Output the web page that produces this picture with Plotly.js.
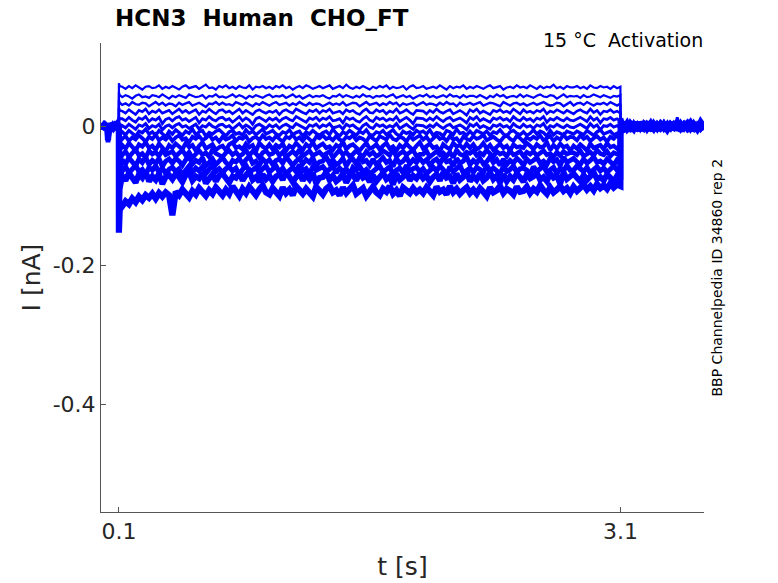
<!DOCTYPE html>
<html>
<head>
<meta charset="utf-8">
<script src="https://cdn.plot.ly/plotly-3.0.1.min.js"></script>
<style>html,body{margin:0;padding:0;background:#fff;}#plot{width:778px;height:583px;}</style>
</head>
<body>
<div id="plot"></div>
<script>
// ---- sample times (s) ----
const tPre = [0,0.01,0.02,0.03,0.035,0.04,0.05,0.06,0.07,0.08,0.09,0.0999];
const tStep = [0.1,0.105,
0.12,0.14,0.16,0.18,0.20,0.22,0.24,0.26,0.28,0.30,0.32,0.34,0.36,0.38,0.40,
0.42,0.44,0.46,0.48,0.50,0.52,0.54,0.56,0.58,0.60,0.62,0.64,0.66,0.68,0.70,
0.72,0.74,0.76,0.78,0.80,0.82,0.84,0.86,0.88,0.90,0.92,0.94,0.96,0.98,1.00,
1.02,1.04,1.06,1.08,1.10,1.12,1.14,1.16,1.18,1.20,1.22,1.24,1.26,1.28,1.30,
1.32,1.34,1.36,1.38,1.40,1.42,1.44,1.46,1.48,1.50,1.52,1.54,1.56,1.58,1.60,
1.62,1.64,1.66,1.68,1.70,1.72,1.74,1.76,1.78,1.80,1.82,1.84,1.86,1.88,1.90,
1.92,1.94,1.96,1.98,2.00,2.02,2.04,2.06,2.08,2.10,2.12,2.14,2.16,2.18,2.20,
2.22,2.24,2.26,2.28,2.30,2.32,2.34,2.36,2.38,2.40,2.42,2.44,2.46,2.48,2.50,
2.52,2.54,2.56,2.58,2.60,2.62,2.64,2.66,2.68,2.70,2.72,2.74,2.76,2.78,2.80,
2.82,2.84,2.86,2.88,2.90,2.92,2.94,2.96,2.98,3.00,3.02,3.04,3.06,3.08,3.10];
const tPost = [3.1001,3.12,3.14,3.16,3.18,3.20,3.22,3.24,3.26,3.28,3.30,3.32,3.34,
3.36,3.38,3.40,3.42,3.44,3.46,3.48,3.50,3.52,3.54,3.56,3.58,3.60];

// ---- sweep currents, read in pA: holding (pre), test step, tail (post) ----
const pre01_pA = [3,-2,4,-1,-12,2,-3,5,-1,2,-4,1];
const step01_pA = [62,58,
57,54,58,55,59,56,53,57,58,55,56,59,54,57,55,
58,56,53,57,59,55,56,58,54,57,60,55,56,53,58,
56,59,55,57,54,58,56,55,59,53,57,56,58,55,57,
54,58,56,59,55,57,53,56,58,55,59,57,54,56,58,
55,57,59,54,56,58,55,60,56,54,57,55,58,56,53,
57,55,58,56,59,54,57,55,56,58,53,57,59,55,56,
58,54,56,57,55,59,56,53,58,55,57,56,59,54,57,
55,58,56,54,57,59,55,56,58,53,56,57,55,59,56,
57,55,59,56,54,58,55,57,56,60,55,57,54,58,56,
56,58,55,57,54,59,56,55,58,56,57,54,58,55,57];
const post01_pA = [10,-6,5,-3,7,-5,2,-6,6,-2,4,-5,3,0,-4,5,-2,6,-3,1,-5,4,-1,3,-4,2];

const pre02_pA = [-4,3,-1,2,-20,-2,4,-3,1,-2,3,0];
const step02_pA = [49,45,
42,45,43,40,44,46,42,43,41,45,44,42,46,43,40,
44,42,45,43,41,46,44,42,43,45,40,44,43,46,42,
43,41,44,46,42,45,43,40,44,42,45,43,41,44,46,
42,44,43,45,41,43,46,42,44,40,43,45,42,44,43,
45,42,40,44,43,46,42,45,43,41,44,42,46,43,44,
41,44,43,45,42,44,46,41,43,45,42,44,40,43,45,
43,46,42,44,41,43,45,42,46,43,44,41,45,42,44,
44,42,45,43,40,44,42,46,43,45,41,43,44,42,46,
42,45,43,41,44,46,43,42,45,44,40,43,46,42,44,
43,44,41,45,42,43,46,44,42,45,43,41,44,43,45];
const post02_pA = [-12,7,-4,6,-2,5,-6,3,-3,6,-4,2,-5,4,1,-3,5,-6,2,-1,4,-3,6,-2,0,-4];

const pre03_pA = [2,-5,1,4,-8,-3,2,-1,5,-4,1,-2];
const step03_pA = [38,34,
31,33,30,35,32,31,34,33,29,32,35,31,34,30,33,
32,29,34,31,33,35,30,32,34,31,28,33,32,35,31,
34,31,32,30,35,33,31,34,32,29,33,31,35,32,30,
33,35,31,32,34,30,33,31,35,32,30,34,31,33,32,
29,32,34,31,33,31,35,30,32,34,33,29,32,35,31,
32,34,30,33,31,35,32,34,29,33,31,32,34,30,33,
35,31,33,32,30,34,31,35,32,33,29,34,31,32,34,
31,33,35,30,32,34,33,31,29,35,32,30,33,34,31,
33,30,32,34,31,33,35,32,30,31,34,33,29,32,35,
30,33,34,31,35,32,30,33,32,34,31,35,32,30,33];
const post03_pA = [6,-9,3,-5,6,-1,4,-4,5,-6,2,6,-3,-2,4,-5,1,3,-4,6,-2,-5,3,0,5,-3];

const pre04_pA = [-1,4,-3,0,-22,3,-4,2,-2,4,-1,2];
const step04_pA = [26,23,
22,19,24,20,17,23,21,25,18,22,20,24,19,21,23,
18,22,25,20,23,19,21,24,17,22,20,25,21,18,23,
24,20,22,18,21,25,19,23,20,17,22,24,21,19,22,
20,23,17,22,24,21,19,25,22,20,18,23,21,24,19,
23,21,25,19,20,22,18,24,21,23,19,17,22,25,20,
19,24,21,23,18,22,20,25,19,21,24,20,17,23,22,
22,18,23,20,25,21,19,22,24,18,21,23,20,16,24,
21,25,19,22,20,17,23,21,24,20,22,19,25,21,18,
24,20,22,19,23,21,25,18,22,20,24,21,19,23,20,
18,22,24,21,19,25,20,23,17,22,21,24,20,22,19];
const post04_pA = [-8,4,-7,2,-4,7,-3,5,-5,3,-6,4,1,5,-2,-4,6,-1,3,-5,2,-3,5,-6,1,4];

const pre05_pA = [5,-1,2,-4,-15,1,-2,4,-3,0,3,-1];
const step05_pA = [13,11,
11,8,13,9,6,12,10,14,7,11,9,13,4,10,12,
8,12,14,9,11,7,10,13,5,11,9,14,10,8,12,
13,9,11,6,10,14,8,12,9,3,11,13,10,7,12,
9,12,7,11,13,10,8,14,11,9,6,12,10,13,8,
12,10,14,8,9,11,5,13,10,12,8,6,11,14,9,
7,13,10,12,8,11,9,14,7,10,13,9,4,12,11,
11,8,12,9,14,10,7,11,13,8,10,12,9,5,13,
10,14,8,11,9,6,12,10,13,9,11,7,14,10,8,
13,9,11,7,12,10,14,6,11,9,13,10,8,12,9,
8,11,13,10,7,14,9,12,5,11,10,13,9,11,8];
const post05_pA = [12,-3,6,-6,3,-4,6,-2,4,-5,5,-3,6,-4,2,-1,-5,13,-3,5,0,3,-4,2,-6,1];

const pre06_pA = [-3,1,-4,3,-10,-1,3,-2,4,-3,0,1];
const step06_pA = [-4,-2,
1,-2,3,-1,-4,2,0,4,-3,1,-1,3,-5,0,2,
-2,2,4,-1,1,-3,0,3,-4,1,-1,4,0,-2,2,
3,-1,1,-4,0,4,-2,2,-1,-5,1,3,0,-3,2,
-1,2,-3,1,3,0,-2,4,1,-1,-4,2,0,3,-2,
2,0,4,-2,-1,1,-4,3,0,2,-2,-5,1,4,-1,
-3,3,0,2,-2,1,-1,4,-3,0,3,-1,-4,2,1,
1,-2,2,-1,4,0,-3,1,3,-2,0,2,-1,-5,3,
0,4,-2,1,-1,-4,2,0,3,-1,1,-3,4,0,-2,
3,-1,1,-3,2,0,4,-4,1,-1,3,0,-2,2,-1,
-2,1,3,0,-3,4,-1,2,-5,1,0,3,-1,1,-2];
const post06_pA = [-5,6,-2,4,-6,2,-4,6,-1,4,-3,5,-6,2,-4,3,-2,5,-5,1,6,-3,-1,4,-2,3];

const pre07_pA = [1,-3,5,-2,-21,4,-1,3,-4,1,-2,-2];
const step07_pA = [-20,-12,
-8,-12,-6,-10,-14,-7,-9,-4,-11,-8,-13,-6,-10,-15,-7,
-11,-5,-9,-13,-7,-10,-4,-12,-8,-6,-14,-9,-11,-7,-5,
-10,-14,-8,-6,-11,-9,-13,-5,-10,-7,-12,-8,-4,-11,-9,
-6,-11,-13,-8,-10,-5,-12,-9,-7,-14,-8,-11,-6,-10,-13,
-9,-7,-12,-4,-10,-14,-8,-11,-6,-9,-13,-7,-10,-5,-12,
-13,-8,-10,-6,-12,-9,-5,-11,-14,-7,-10,-8,-12,-6,-9,
-7,-11,-5,-13,-9,-10,-14,-6,-8,-12,-4,-10,-9,-13,-7,
-12,-6,-9,-11,-7,-13,-8,-10,-5,-11,-14,-8,-6,-10,-12,
-8,-13,-10,-5,-11,-7,-9,-14,-6,-12,-8,-10,-13,-7,-9,
-11,-7,-9,-12,-6,-10,-13,-8,-5,-11,-9,-7,-12,-10,-8];
const post07_pA = [8,-5,7,-2,5,-7,3,-3,7,-4,2,-5,4,-1,5,-3,2,-6,4,-2,3,-4,6,-3,1,-5];

const pre08_pA = [-2,2,-1,4,-6,-4,1,-3,2,5,-2,0];
const step08_pA = [-35,-22,
-18,-14,-21,-16,-19,-13,-17,-22,-15,-18,-12,-20,-16,-19,-14,
-21,-16,-13,-19,-17,-23,-15,-18,-14,-20,-17,-12,-19,-16,-22,
-15,-19,-17,-13,-21,-16,-18,-14,-22,-17,-15,-20,-13,-18,-16,
-20,-14,-18,-22,-15,-17,-12,-19,-16,-21,-14,-18,-23,-15,-17,
-13,-18,-16,-20,-14,-19,-21,-15,-17,-13,-20,-16,-18,-22,-14,
-17,-21,-14,-16,-19,-12,-18,-20,-15,-17,-22,-14,-19,-16,-13,
-19,-15,-22,-17,-13,-18,-16,-21,-14,-19,-17,-23,-15,-18,-20,
-14,-18,-16,-12,-20,-17,-15,-19,-22,-16,-13,-18,-21,-14,-17,
-22,-16,-19,-15,-18,-13,-20,-17,-14,-21,-16,-19,-12,-18,-15,
-16,-20,-13,-18,-15,-21,-17,-14,-19,-16,-22,-15,-18,-13,-17];
const post08_pA = [-10,3,-5,7,-3,4,-5,2,-6,5,-2,3,-4,6,-1,-5,3,2,-4,5,-3,1,-5,4,-2,6];

const pre09_pA = [4,-4,3,-1,-18,1,-3,0,3,-4,2,2];
const step09_pA = [-55,-36,
-27,-32,-24,-30,-35,-26,-29,-23,-31,-28,-34,-25,-30,-36,-27,
-31,-25,-29,-33,-24,-30,-27,-35,-28,-23,-32,-29,-26,-34,-30,
-28,-34,-26,-23,-31,-29,-33,-25,-30,-27,-36,-24,-29,-32,-26,
-33,-27,-30,-25,-35,-28,-31,-24,-29,-34,-26,-30,-23,-32,-28,
-25,-31,-29,-34,-27,-30,-22,-33,-28,-26,-31,-35,-29,-24,-32,
-30,-26,-33,-28,-24,-32,-29,-35,-27,-31,-25,-30,-34,-28,-23,
-32,-28,-25,-31,-29,-36,-26,-30,-33,-24,-29,-27,-32,-25,-31,
-26,-33,-30,-24,-32,-27,-34,-29,-25,-31,-28,-35,-26,-30,-29,
-31,-24,-28,-33,-26,-30,-29,-23,-34,-27,-32,-25,-30,-28,-35,
-28,-32,-26,-30,-35,-25,-31,-29,-27,-33,-24,-30,-28,-32,-27];
const post09_pA = [4,-7,2,-4,5,-2,6,-5,3,-3,6,-6,2,3,-5,4,-2,-3,6,-1,4,-5,2,-4,5,-1];

const pre10_pA = [-5,0,2,-3,-12,3,-2,5,-1,-3,4,-1];
const step10_pA = [-75,-48,
-41,-36,-44,-38,-33,-42,-39,-45,-35,-40,-37,-43,-34,-41,-38,
-36,-43,-39,-34,-42,-37,-45,-40,-35,-41,-38,-44,-33,-39,-42,
-44,-38,-35,-41,-37,-43,-40,-34,-42,-36,-39,-45,-38,-35,-41,
-39,-34,-42,-37,-44,-40,-36,-41,-33,-43,-38,-35,-42,-40,-37,
-42,-38,-36,-45,-39,-34,-41,-37,-43,-40,-35,-39,-44,-36,-41,
-37,-43,-40,-35,-38,-42,-33,-44,-39,-36,-41,-38,-34,-43,-40,
-40,-35,-44,-39,-36,-41,-38,-43,-37,-45,-34,-40,-42,-37,-39,
-35,-42,-38,-41,-34,-39,-44,-36,-40,-38,-43,-35,-41,-39,-36,
-43,-37,-40,-36,-42,-38,-35,-41,-39,-44,-37,-42,-36,-40,-38,
-38,-41,-35,-43,-40,-37,-42,-34,-39,-41,-36,-43,-38,-40,-37];
const post10_pA = [-14,5,-3,3,-5,6,-2,4,-4,2,-5,4,-2,-4,5,-3,6,-2,1,-4,3,-6,5,-1,3,-2];

const pre11_pA = [2,-2,-4,3,-23,-1,4,-3,0,2,-4,1];
const step11_pA = [-95,-62,
-48,-54,-45,-51,-57,-47,-52,-44,-55,-49,-53,-46,-58,-50,-47,
-53,-46,-50,-56,-48,-43,-54,-49,-52,-45,-57,-51,-47,-55,-50,
-45,-52,-57,-49,-51,-46,-54,-48,-43,-53,-50,-56,-47,-52,-48,
-55,-49,-47,-53,-44,-51,-56,-50,-46,-54,-48,-52,-45,-57,-51,
-50,-44,-53,-48,-55,-52,-46,-57,-49,-47,-54,-45,-51,-49,-56,
-47,-55,-51,-45,-52,-49,-58,-46,-53,-50,-44,-54,-48,-52,-46,
-52,-48,-56,-50,-47,-54,-45,-51,-49,-57,-46,-53,-50,-44,-55,
-49,-53,-46,-54,-51,-44,-52,-48,-56,-47,-55,-49,-53,-46,-50,
-56,-47,-52,-49,-45,-53,-50,-55,-46,-51,-48,-57,-44,-52,-49,
-46,-51,-55,-47,-53,-49,-44,-52,-50,-54,-47,-51,-56,-48,-50];
const post11_pA = [9,-4,4,-7,2,-3,5,-6,4,-1,3,-4,5,1,-3,6,-5,2,-2,4,-4,1,-6,5,-3,4];

const pre12_pA = [-1,3,0,-4,-9,4,-1,2,-4,3,1,0];
const step12_pA = [-115,-76,
-64,-58,-67,-61,-56,-65,-62,-69,-59,-63,-57,-66,-60,-68,-62,
-59,-65,-61,-70,-63,-57,-66,-60,-64,-58,-68,-62,-56,-65,-61,
-67,-61,-58,-64,-60,-69,-62,-56,-65,-63,-59,-67,-61,-57,-66,
-62,-57,-66,-60,-68,-63,-59,-65,-55,-64,-61,-69,-58,-63,-60,
-58,-64,-62,-56,-67,-60,-65,-61,-70,-59,-63,-57,-66,-62,-68,
-65,-60,-57,-66,-62,-58,-69,-63,-60,-67,-56,-64,-61,-59,-65,
-61,-68,-63,-59,-64,-57,-62,-70,-58,-65,-61,-56,-67,-63,-60,
-66,-59,-62,-67,-56,-64,-60,-63,-68,-58,-65,-62,-57,-66,-61,
-60,-63,-69,-58,-65,-61,-57,-66,-62,-59,-68,-60,-64,-56,-63,
-63,-57,-61,-65,-59,-67,-62,-58,-64,-60,-66,-61,-57,-63,-59];
const post12_pA = [-7,6,-6,5,-1,3,-6,4,-2,6,-4,2,-3,4,-5,1,-2,5,-4,3,-1,6,-3,-2,4,-5];

const pre13_pA = [3,-4,2,1,-16,-3,2,-4,3,-1,-3,-2];
const step13_pA = [-130,-90,
-71,-78,-67,-75,-81,-69,-74,-65,-79,-72,-77,-68,-83,-73,-70,
-76,-68,-73,-80,-70,-66,-78,-72,-75,-67,-82,-74,-69,-79,-71,
-68,-75,-81,-72,-74,-66,-78,-70,-65,-77,-73,-80,-69,-76,-71,
-79,-72,-69,-77,-65,-74,-80,-73,-68,-78,-70,-76,-67,-82,-74,
-73,-66,-77,-71,-79,-75,-68,-81,-72,-69,-78,-67,-74,-71,-80,
-70,-79,-74,-67,-76,-72,-84,-68,-77,-73,-65,-78,-71,-75,-68,
-75,-71,-80,-73,-69,-78,-66,-74,-72,-82,-68,-77,-73,-65,-79,
-72,-77,-68,-78,-74,-66,-76,-71,-81,-69,-79,-72,-77,-68,-73,
-80,-69,-75,-72,-67,-77,-73,-79,-68,-74,-71,-83,-66,-76,-72,
-68,-74,-79,-70,-77,-72,-66,-76,-73,-78,-69,-74,-80,-71,-72];
const post13_pA = [11,-2,5,-4,6,-5,2,-3,5,-6,4,-2,4,-3,3,-5,6,-1,-4,2,5,-3,1,-5,3,-2];

const pre14_pA = [0,2,-3,4,-20,1,-4,3,-2,0,4,1];
const step14_pA = [-153,-120,
-115,-108,-112,-104,-109,-101,-106,-99,-103,-97,-104,-96,-101,-95,-99,
-128,-94,-99,-91,-97,-102,-93,-98,-89,-96,-100,-92,-97,-88,-95,
-99,-91,-97,-86,-94,-100,-90,-96,-87,-93,-99,-91,-85,-95,-98,
-89,-94,-100,-88,-96,-91,-99,-86,-93,-97,-90,-95,-101,-87,-94,
-98,-90,-86,-95,-92,-99,-88,-96,-91,-85,-97,-93,-89,-100,-92,
-87,-95,-99,-90,-94,-86,-97,-92,-100,-88,-93,-96,-89,-95,-91,
-96,-88,-93,-99,-87,-94,-91,-98,-86,-95,-90,-97,-92,-88,-96,
-91,-97,-89,-94,-100,-88,-95,-92,-86,-96,-90,-93,-98,-87,-94,
-93,-87,-96,-90,-94,-85,-92,-97,-88,-95,-91,-86,-93,-89,-96,
-87,-93,-89,-84,-91,-86,-92,-83,-89,-85,-90,-82,-88,-84,-86];
const post14_pA = [-9,4,-4,2,-4,5,-3,6,-3,4,-6,5,-2,2,-5,3,-1,4,-6,2,-3,5,-2,-4,6,-1];

const yTicks = [-0.4, -0.2, 0];
const yTickText = ['-0.4', '-0.2', '0'];
const xTicks = [0.1, 3.1];
const xTickText = ['0.1', '3.1'];

// ---- build one line per sweep (pA -> nA) ----
const sweeps = [
  [pre01_pA, step01_pA, post01_pA], [pre02_pA, step02_pA, post02_pA],
  [pre03_pA, step03_pA, post03_pA], [pre04_pA, step04_pA, post04_pA],
  [pre05_pA, step05_pA, post05_pA], [pre06_pA, step06_pA, post06_pA],
  [pre07_pA, step07_pA, post07_pA], [pre08_pA, step08_pA, post08_pA],
  [pre09_pA, step09_pA, post09_pA], [pre10_pA, step10_pA, post10_pA],
  [pre11_pA, step11_pA, post11_pA], [pre12_pA, step12_pA, post12_pA],
  [pre13_pA, step13_pA, post13_pA], [pre14_pA, step14_pA, post14_pA]
];
// stroke widths per sweep (noisier, more hyperpolarized sweeps drawn heavier)
const lineWidths = [2.2,2.2,2.4,2.6,2.8,3.0,3.4,3.8,4.2,4.5,4.8,5.0,5.8,6.2];
const tAll = tPre.concat(tStep, tPost);
const traces = sweeps.map((s, i) => ({
  type: 'scatter', mode: 'lines',
  x: tAll,
  y: s[0].concat(s[1], s[2]).map(v => v / 1000),
  line: {color: '#0000ff', width: lineWidths[i]},
  hoverinfo: 'skip'
}));

const axisColor = '#555555';
const layout = {
  width: 778, height: 583,
  margin: {l: 101, r: 74, t: 43, b: 71, pad: 0},
  paper_bgcolor: '#ffffff', plot_bgcolor: '#ffffff',
  showlegend: false,
  font: {family: 'DejaVu Sans, sans-serif', color: '#262626'},
  title: {
    text: '<b>HCN3\u00a0\u00a0Human\u00a0\u00a0CHO_FT</b>',
    font: {family: 'DejaVu Sans, sans-serif', size: 23, color: '#000000'},
    xref: 'container', x: 115 / 778, xanchor: 'left',
    yref: 'container', y: 1 - 18 / 583, yanchor: 'middle'
  },
  xaxis: {
    range: [-0.007, 3.6],
    tickvals: xTicks, ticktext: xTickText,
    ticks: 'inside', ticklen: 5, tickwidth: 1, tickcolor: axisColor,
    showline: true, linecolor: axisColor, linewidth: 1, mirror: false,
    showgrid: false, zeroline: false,
    tickfont: {size: 22, color: '#262626'},
    title: {text: 't [s]', font: {size: 25, color: '#262626'}, standoff: 14}
  },
  yaxis: {
    range: [-0.555, 0.12],
    tickvals: yTicks, ticktext: yTickText,
    ticks: 'inside', ticklen: 5, tickwidth: 1, tickcolor: axisColor,
    showline: true, linecolor: axisColor, linewidth: 1, mirror: false,
    showgrid: false, zeroline: false,
    tickfont: {size: 22, color: '#262626'},
    title: {text: 'I [nA]', font: {size: 25, color: '#262626'}, standoff: 4}
  },
  annotations: [
    {text: '15 °C\u00a0\u00a0Activation', xref: 'paper', yref: 'paper',
     x: 1.002, y: (512 - 40) / 469, xanchor: 'right', yanchor: 'middle',
     showarrow: false, font: {size: 19, color: '#000000'}},
    {text: 'BBP Channelpedia ID 34860 rep 2', xref: 'paper', yref: 'paper',
     x: (716 - 101) / 603, y: 0.5, xanchor: 'center', yanchor: 'middle',
     textangle: -90, showarrow: false, font: {size: 14, color: '#000000'}}
  ]
};

Plotly.newPlot('plot', traces, layout, {displayModeBar: false, staticPlot: true});
</script>
</body>
</html>
